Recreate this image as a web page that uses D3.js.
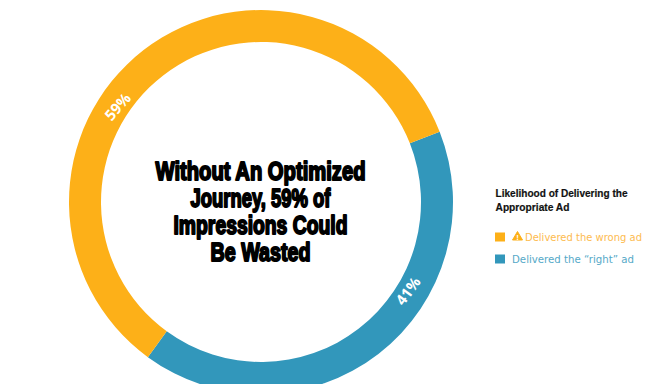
<!DOCTYPE html>
<html><head><meta charset="utf-8">
<script src="https://cdnjs.cloudflare.com/ajax/libs/d3/7.8.5/d3.min.js"></script>
<style>html,body{margin:0;padding:0;background:#fff}svg{display:block}</style>
</head><body><div id="c"></div>
<script>
const categories = ["Delivered the \u201cright\u201d ad", "Delivered the wrong ad"];
const values = [41, 59];
const colors = ["#3297BB", "#FDB018"];
const sliceLabels = ["41%", "59%"];
const titleLines = ["Without An Optimized", "Journey, 59% of", "Impressions Could", "Be Wasted"];
const legendTitle = ["Likelihood of Delivering the", "Appropriate Ad"];

const W = 648, H = 384, cx = 261, cy = 202, R = 192, r = 160;
const svg = d3.select("#c").append("svg").attr("width", W).attr("height", H);
const g = svg.append("g").attr("transform", `translate(${cx},${cy})`);
const start = 68.5 * Math.PI / 180;
const pie = d3.pie().sort(null).startAngle(start).endAngle(start + 2 * Math.PI);
const arcs = pie(values);
const arc = d3.arc().innerRadius(r).outerRadius(R);
g.selectAll("path").data(arcs).join("path").attr("d", arc).attr("fill", (d, i) => colors[i]);

// slice labels, placed along the ring
const labelAngles = [121.2, 303.6];
const labelRadius = 172;
const labelRot = [-54, -49];
g.selectAll("text.sl").data(sliceLabels).join("text").attr("class", "sl")
  .attr("transform", (d, i) => {
    const a = labelAngles[i] * Math.PI / 180;
    return `translate(${labelRadius * Math.sin(a)},${-labelRadius * Math.cos(a)}) rotate(${labelRot[i]})`;
  })
  .attr("text-anchor", "middle").attr("dy", "0.35em")
  .attr("font-family", "'Open Sans',sans-serif").attr("font-weight", 700).attr("font-size", 15)
  .attr("fill", "#fff").text(d => d);

// central title
const titleWidths = [210, 140, 174, 100];
svg.selectAll("text.t").data(titleLines).join("text").attr("class", "t")
  .attr("x", 260.5).attr("y", (d, i) => 179.5 + i * 27.3)
  .attr("text-anchor", "middle")
  .attr("font-family", "'Liberation Sans Narrow','Liberation Sans',sans-serif")
  .attr("font-weight", 700).attr("font-size", 25)
  .attr("stroke", "#000").attr("stroke-width", 1.9).attr("stroke-linejoin", "round").attr("fill", "#000")
  .attr("textLength", (d, i) => titleWidths[i]).attr("lengthAdjust", "spacingAndGlyphs")
  .text(d => d);

// legend
const legendTitleWidths = [132, 74];
svg.selectAll("text.lt").data(legendTitle).join("text").attr("class", "lt")
  .attr("x", 495.5).attr("y", (d, i) => 197 + i * 13.5)
  .attr("font-family", "'Liberation Sans',sans-serif").attr("font-weight", 700).attr("font-size", 11.5)
  .attr("fill", "#111").attr("stroke", "#111").attr("stroke-width", 0.2)
  .attr("textLength", (d, i) => legendTitleWidths[i]).attr("lengthAdjust", "spacingAndGlyphs")
  .text(d => d);

const legendOrder = [1, 0];
const legendY = d3.scalePoint().domain(legendOrder).range([237, 259]);
const textX = {1: 525, 0: 512}, textW = {1: 117, 0: 122};
const textColors = {1: "#FDBB50", 0: "#55A9C8"};
legendOrder.forEach(k => {
  const y = legendY(k);
  svg.append("rect").attr("x", 495).attr("y", y - 4.5).attr("width", 10).attr("height", 9).attr("fill", colors[k]);
  svg.append("text").attr("x", textX[k]).attr("y", y + 4)
    .attr("font-family", "'DejaVu Sans',sans-serif").attr("font-size", 10).attr("fill", textColors[k])
    .attr("textLength", textW[k]).attr("lengthAdjust", "spacingAndGlyphs").text(categories[k]);
});
// warning icon
const wy = legendY(1);
svg.append("path").attr("d", `M512.5,${wy + 3} L517.5,${wy - 5.5} L522.5,${wy + 3} Z`)
  .attr("fill", colors[1]).attr("stroke", colors[1]).attr("stroke-width", 1).attr("stroke-linejoin", "round");
svg.append("text").attr("x", 517.5).attr("y", wy + 2.8).attr("text-anchor", "middle")
  .attr("font-family", "'Liberation Sans',sans-serif").attr("font-weight", 700).attr("font-size", 8)
  .attr("fill", "#fff").text("!");
</script></body></html>
